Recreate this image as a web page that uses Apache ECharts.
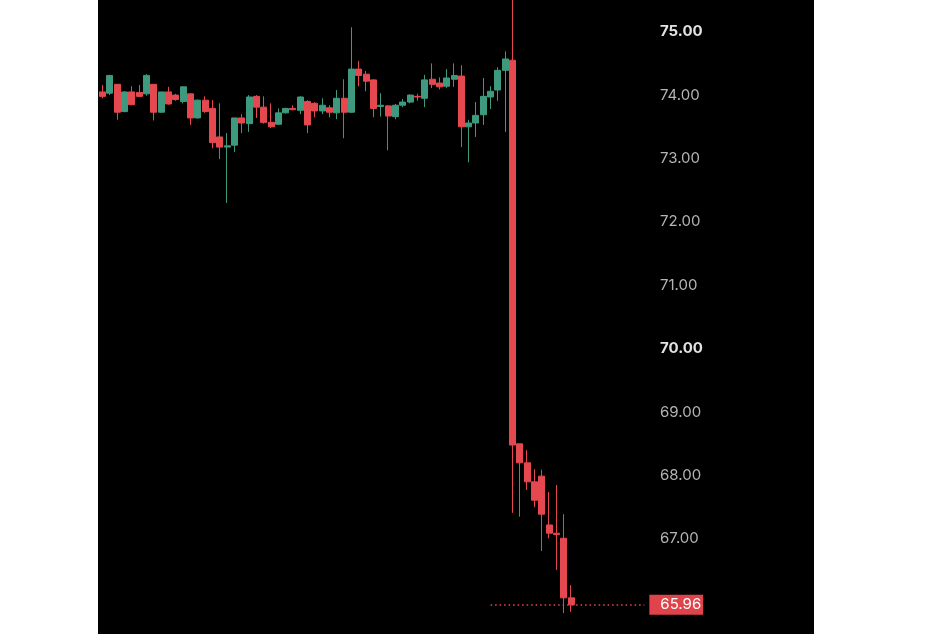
<!DOCTYPE html>
<html>
<head>
<meta charset="utf-8">
<script src="https://cdn.jsdelivr.net/npm/echarts@6/dist/echarts.min.js"></script>
<style>
  html, body { margin: 0; padding: 0; background: #ffffff; width: 946px; height: 634px; overflow: hidden; }
  #panel { position: absolute; left: 98px; top: 0; width: 716px; height: 634px; background: #000000; }
  #chart { width: 716px; height: 634px; }
</style>
</head>
<body>
<div id="panel"><div id="chart"></div></div>
<script>
// ---- data ----
const opens  = [74.05,74.03,74.17,73.74,74.05,74.04,74.02,74.17,73.73,74.05,74.00,73.90,74.02,73.64,73.92,73.79,73.34,73.18,73.21,73.64,
                73.55,73.98,73.81,73.57,73.54,73.72,73.79,73.76,73.90,73.87,73.75,73.80,73.72,73.95,73.73,74.41,74.33,74.24,73.82,73.83,
                73.66,73.84,73.89,73.98,73.95,74.25,74.19,74.14,74.25,74.30,73.50,73.56,73.69,73.97,74.08,74.39,74.55,68.50,68.20,67.90,
                67.99,67.22,67.09,67.01,66.07];
const closes = [73.98,74.31,73.73,74.05,73.85,73.98,74.31,73.73,74.05,73.86,73.93,74.13,73.64,73.92,73.74,73.25,73.18,73.20,73.64,73.56,
                73.97,73.81,73.57,73.50,73.72,73.79,73.77,73.97,73.53,73.75,73.84,73.73,73.95,73.73,74.41,74.31,74.22,73.79,73.84,73.67,
                73.84,73.89,74.00,73.97,74.24,74.17,74.13,74.27,74.31,73.50,73.56,73.68,73.98,74.06,74.39,74.57,68.48,68.20,67.90,67.61,
                67.39,67.09,67.07,66.07,65.96];
const lows   = [73.95,74.00,73.61,73.73,73.84,73.97,73.99,73.60,73.72,73.85,73.91,73.87,73.53,73.63,73.72,73.16,72.99,72.30,73.10,73.40,
                73.42,73.64,73.55,73.48,73.53,73.71,73.76,73.70,73.40,73.65,73.70,73.65,73.62,73.32,73.72,74.14,74.06,73.65,73.66,73.13,
                73.62,73.81,73.87,73.91,73.81,74.11,74.09,74.11,74.13,73.18,72.94,73.34,73.53,73.78,73.91,73.42,67.41,67.35,67.77,67.50,
                66.81,67.01,66.51,65.83,65.85];
const highs  = [74.16,74.32,74.17,74.06,74.14,74.16,74.33,74.17,74.05,74.13,74.02,74.14,74.02,73.93,73.98,73.92,73.87,73.40,73.64,73.70,
                74.00,74.00,73.98,73.87,73.79,73.80,73.84,73.98,73.92,73.89,73.95,73.84,74.08,74.25,75.07,74.54,74.38,74.25,74.03,73.84,
                73.86,73.94,74.01,74.02,74.32,74.50,74.28,74.41,74.50,74.47,73.61,73.89,74.27,74.14,74.44,74.69,75.50,68.50,68.40,68.10,
                68.09,67.74,67.85,67.39,66.27];
const emptySlots = 10;                 // blank room to the right of the last candle
const priceLineStart = 53;             // candle index where the dotted last-price line begins
const yMin = 65.5, yMax = 75.5, yStep = 0.5;
const boldTicks = [70, 75];
const hiddenTicks = [66];              // covered by the last-price tag

// ---- build ----
const categories = [];
for (let i = 0; i < opens.length + emptySlots; i++) categories.push(String(i));
const ohlc = opens.map((o, i) => [o, closes[i], lows[i], highs[i]]);
const lastClose = closes[closes.length - 1];

const UP = '#3e9a7e', DOWN = '#e5484f';

const chart = echarts.init(document.getElementById('chart'), null, { renderer: 'canvas' });
chart.setOption({
  backgroundColor: '#000000',
  animation: false,
  grid: { left: 1, right: 166, top: 0, bottom: 0 },
  xAxis: {
    type: 'category',
    data: categories,
    boundaryGap: true,
    axisLine: { show: false },
    axisTick: { show: false },
    axisLabel: { show: false },
    splitLine: { show: false }
  },
  yAxis: {
    type: 'value',
    position: 'right',
    min: yMin,
    max: yMax,
    interval: yStep,
    axisLine: { show: false },
    axisTick: { show: false },
    splitLine: { show: false },
    axisLabel: {
      margin: 12,
      fontFamily: 'Inter',
      fontSize: 15,
      color: '#b4b4b4',
      formatter: function (v) {
        if (Math.abs(v - Math.round(v)) > 1e-6) return '';
        const r = Math.round(v);
        if (r <= yMin || r >= yMax || hiddenTicks.includes(r)) return '';
        const t = r.toFixed(2);
        return boldTicks.includes(r) ? '{b|' + t + '}' : t;
      },
      rich: {
        b: { fontFamily: 'Inter', fontSize: 15, fontWeight: 'bold', color: '#e2e2e2' }
      }
    }
  },
  series: [{
    type: 'candlestick',
    data: ohlc,
    barWidth: 6.5,
    clip: false,
    itemStyle: {
      color: UP,
      color0: DOWN,
      borderColor: UP,
      borderColor0: DOWN,
      borderWidth: 1
    },
    markLine: {
      silent: true,
      symbol: ['none', 'none'],
      animation: false,
      lineStyle: { color: DOWN, type: [1.5, 3], width: 1.6, opacity: 1 },
      label: {
        show: true,
        position: 'end',
        distance: 5,
        formatter: lastClose.toFixed(2),
        backgroundColor: '#e0434a',
        color: '#ffffff',
        fontFamily: 'Inter',
        fontSize: 15,
        padding: [3, 2, 2, 11]
      },
      emphasis: { disabled: true },
      data: [[
        { coord: [priceLineStart, lastClose] },
        { coord: [categories.length - 1, lastClose] }
      ]]
    }
  }]
});
</script>
</body>
</html>
